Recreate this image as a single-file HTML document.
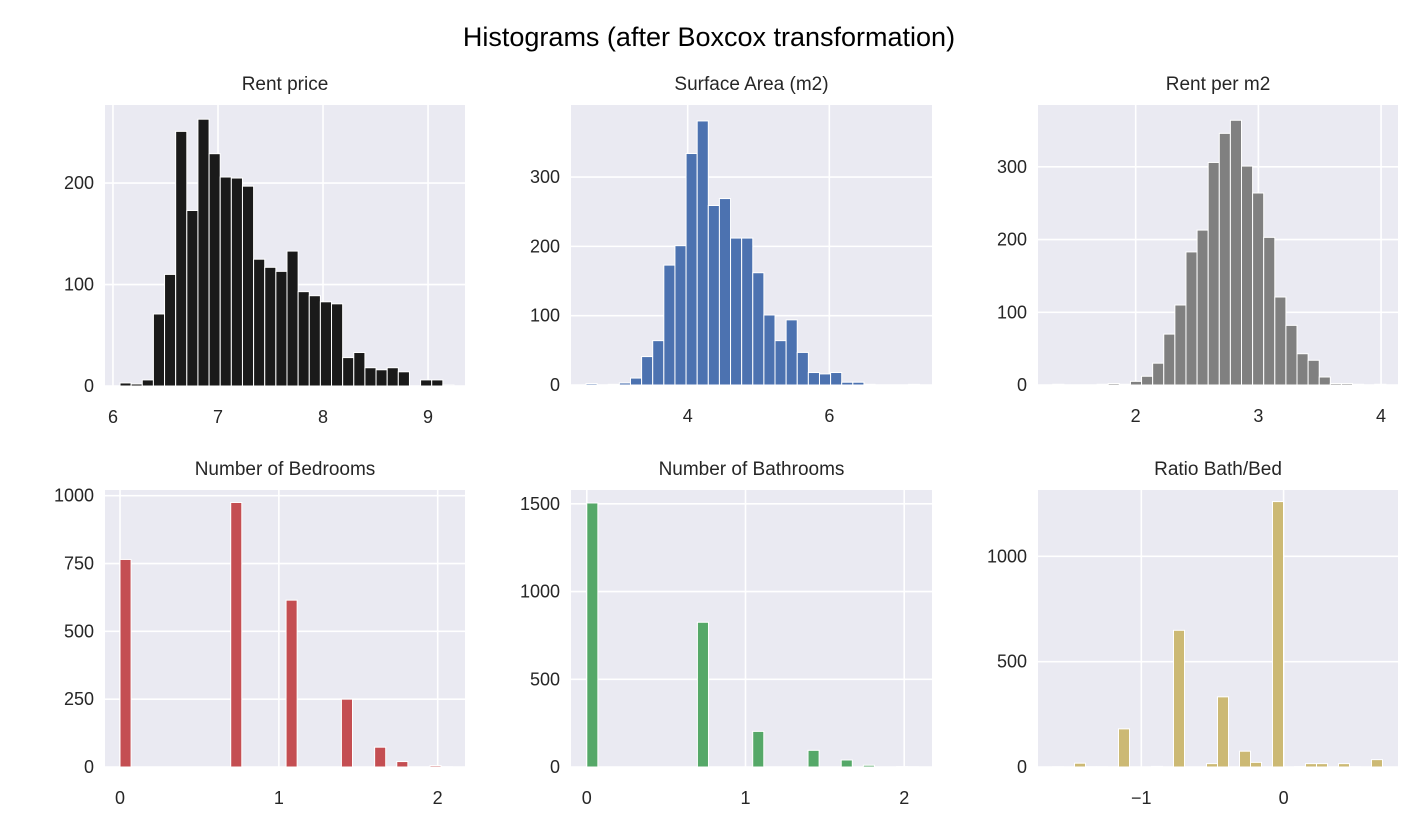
<!DOCTYPE html>
<html><head><meta charset="utf-8"><style>
body{margin:0;background:#fff;}
svg{display:block;font-family:"Liberation Sans",Arial,sans-serif;}
</style></head><body>
<svg id="chart" width="1428" height="840" viewBox="0 0 1428 840" xmlns="http://www.w3.org/2000/svg">
<text x="709" y="46" text-anchor="middle" font-size="27" fill="#000">Histograms (after Boxcox transformation)</text>
</svg>
<script>
// ---- data ----
const titles = ["Rent price","Surface Area (m2)","Rent per m2","Number of Bedrooms","Number of Bathrooms","Ratio Bath/Bed"];
const rentCounts = [3,2,6,71,110,251,173,263,229,206,205,197,125,117,113,133,93,89,83,81,28,33,18,16,18,14,0,6,6,1];
const areaCounts = [2,0,1,3,10,41,64,173,201,334,381,259,269,212,212,162,101,64,94,47,18,16,18,4,4,1,0,0,0,1];
const perM2Counts = [1,0,0,0,1,2,1,5,12,30,70,110,183,213,306,346,364,301,264,203,121,82,43,34,11,2,2,1,0,1];
const bedCounts = [765,0,0,0,0,0,0,0,0,0,975,0,0,0,0,615,0,0,0,0,250,0,0,73,0,20,0,0,5,1];
const bathCounts = [1505,0,0,0,0,0,0,0,0,0,825,0,0,0,0,203,0,0,0,0,95,0,0,40,0,10,0,0,2,1];
const ratioCounts = [1,0,18,1,1,0,181,0,0,3,0,649,0,0,16,333,0,75,22,0,1260,0,2,16,16,0,16,1,0,35];
const binStarts = [6.067,2.564,1.324,0,0,-1.624];
const binWidths = [0.106,0.157,0.0905,0.0697,0.0697,0.0773];
const xTicks = [[6,7,8,9],[4,6],[2,3,4],[0,1,2],[0,1,2],[-1,0]];
const yTicks = [[0,100,200],[0,100,200,300],[0,100,200,300],[0,250,500,750,1000],[0,500,1000,1500],[0,500,1000]];
const xDomains = [[5.924,9.352],[2.352,7.45],[1.204,4.138],[-0.0945,2.172],[-0.0995,2.175],[-1.726,0.804]];
const yMax = [277,404,385,1021,1579,1315];
const allCounts = [rentCounts,areaCounts,perM2Counts,bedCounts,bathCounts,ratioCounts];
// ---- layout ----
const boxes = [[105,105,465,386],[571,105,932,385],[1038,105,1398,385],[105,490,465,767],[571,490,932,767],[1038,490,1398,767]];
const colors = ["#1a1a1a","#4C72B0","#808080","#C44E52","#55A868","#CCB974"];
const keys = ["rent-price","surface-area","rent-per-m2","bedrooms","bathrooms","ratio-bath-bed"];
const svg = document.getElementById('chart');
const NS = "http://www.w3.org/2000/svg";
function mk(tag, attrs, parent){const e=document.createElementNS(NS,tag);for(const k in attrs)e.setAttribute(k,attrs[k]);parent.appendChild(e);return e;}
for(let p=0;p<6;p++){
  const [x0,y0,x1,y1]=boxes[p];
  const [a,b]=xDomains[p];
  const xs=v=>x0+(v-a)/(b-a)*(x1-x0);
  const ys=v=>y1-v/yMax[p]*(y1-y0);
  const g=mk('g',{},svg);
  
  
  const bg=mk('rect',{x:x0,y:y0,width:x1-x0,height:y1-y0,fill:"#EAEAF2"},g);
  
  
  xTicks[p].forEach(t=>{
    const X=xs(t);
    const l=mk('line',{x1:X,x2:X,y1:y0,y2:y1,stroke:"#fff","stroke-width":1.6},g);
    
    
    const tx=mk('text',{x:X,y:y1+37,"text-anchor":"middle","font-size":18,fill:"#262626"},g);
    tx.textContent = t<0 ? "\u2212"+Math.abs(t) : String(t);
    
    
  });
  yTicks[p].forEach(t=>{
    const Y=ys(t);
    const l=mk('line',{x1:x0,x2:x1,y1:Y,y2:Y,stroke:"#fff","stroke-width":1.6},g);
    
    
    const tx=mk('text',{x:x0-11,y:Y+6,"text-anchor":"end","font-size":18,fill:"#262626"},g);
    tx.textContent=String(t);
    
    
  });
  const counts=allCounts[p];
  counts.forEach((c,i)=>{
    const left=binStarts[p]+i*binWidths[p];
    const bx=xs(left), bw=xs(left+binWidths[p])-bx;
    const r=mk('rect',{x:bx,y:ys(c),width:bw,height:Math.max(0,y1-ys(c)),fill:colors[p],stroke:"#fff","stroke-width":1},g);
    
    
  });
  const tt=mk('text',{x:(x0+x1)/2,y:y0-15,"text-anchor":"middle","font-size":19,fill:"#262626"},g);
  tt.textContent=titles[p];
  
  
}
</script>
</body></html>
